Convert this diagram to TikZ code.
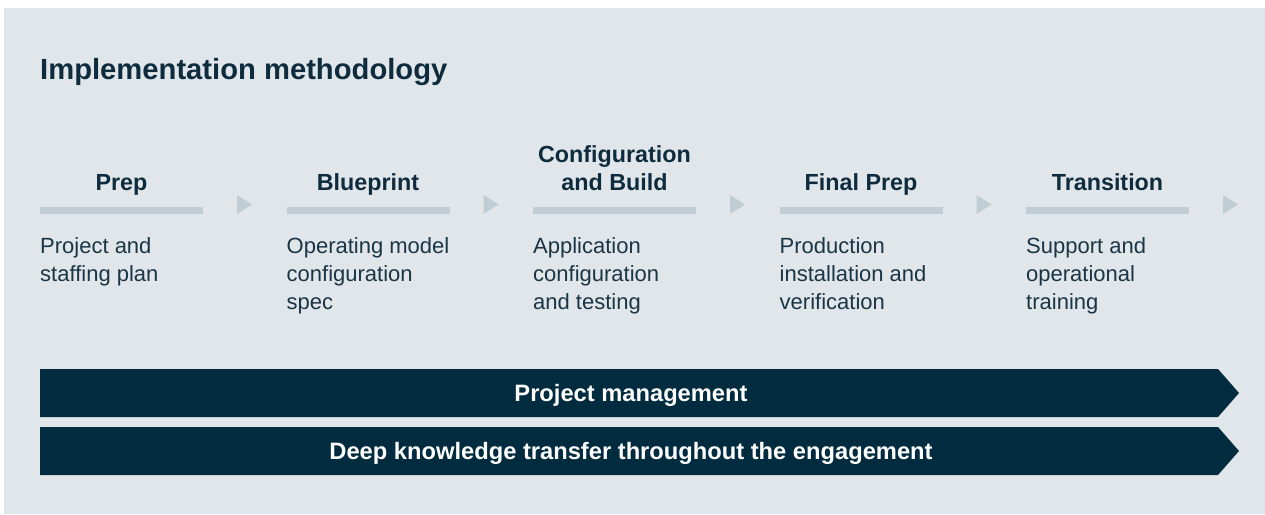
\documentclass[tikz,border=0pt]{standalone}
\usepackage{fontspec}
\setmainfont{Liberation Sans}
\definecolor{bgc}{HTML}{E0E6E9}
\definecolor{barc}{HTML}{C1CDD5}
\definecolor{navy}{HTML}{012B3E}
\definecolor{txt}{HTML}{0F2C3F}
\definecolor{bodytxt}{HTML}{1A3545}
\tikzset{
  heading/.style={anchor=base, align=center, inner sep=0pt, text=txt, font=\fontsize{23.3}{28}\selectfont\bfseries},
  bodytext/.style={anchor=base west, align=left, inner sep=0pt, text=bodytxt, font=\fontsize{22}{28}\selectfont},
  phasebar/.style={fill=barc, draw=none},
  arrowtri/.style={fill=barc, draw=none},
  banner/.style={fill=navy, draw=none},
  bannertext/.style={anchor=base, inner sep=0pt, text=white, font=\fontsize{23.7}{28}\selectfont\bfseries},
}
\begin{document}
\begin{tikzpicture}[x=1pt,y=-1pt]
\useasboundingbox (0,0) rectangle (1265,514);
\fill[bgc] (4,8) rectangle (1265,514);
\node[anchor=base west, inner sep=0pt, text=txt, font=\fontsize{29.2}{34}\selectfont\bfseries] (title) at (40,79) {Implementation methodology};
\foreach \i in {0,...,4}{
  \pgfmathsetmacro{\xo}{40+246.5*\i}
  \fill[phasebar] (\xo,207) rectangle ++(163,7);
  \fill[arrowtri] (\xo+197,195) -- (\xo+212,204.5) -- (\xo+197,214) -- cycle;
}
% headings (base anchor = last line)
\node[heading] (h0) at (121.5,190) {Prep};
\node[heading] (h1) at (368,190) {Blueprint};
\node[heading] (h2) at (614.5,190) {Configuration\\and Build};
\node[heading] (h3) at (861,190) {Final Prep};
\node[heading] (h4) at (1107.5,190) {Transition};
% descriptions (base anchor = last line)
\node[bodytext] (b0) at (40,281) {Project and\\staffing plan};
\node[bodytext] (b1) at (286.5,309) {Operating model\\configuration\\spec};
\node[bodytext] (b2) at (533,309) {Application\\configuration\\and testing};
\node[bodytext] (b3) at (779.5,309) {Production\\installation and\\verification};
\node[bodytext] (b4) at (1026,309) {Support and\\operational\\training};
\fill[banner] (40,369) -- (1218,369) -- (1239,393) -- (1218,417) -- (40,417) -- cycle;
\fill[banner] (40,427) -- (1218,427) -- (1239,451) -- (1218,475) -- (40,475) -- cycle;
\node[bannertext] (pm) at (631,401.5) {Project management};
\node[bannertext] (dk) at (631,459.5) {Deep knowledge transfer throughout the engagement};
\end{tikzpicture}
\end{document}
